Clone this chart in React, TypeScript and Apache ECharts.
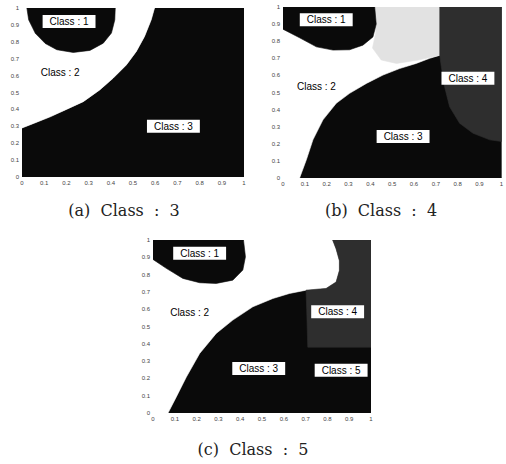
import React, { useEffect, useRef } from "react";
import * as echarts from "echarts";

type Pt = [number, number];

const captions = ["(a)  Class  :  3", "(b)  Class  :  4", "(c)  Class  :  5"];

// ---------- Panel (a): 3 classes ----------
const aBoundary23: Pt[] = [
  [0, 0.29], [0.052, 0.317], [0.127, 0.356], [0.2, 0.4], [0.276, 0.446], [0.35, 0.515],
  [0.41, 0.584], [0.47, 0.663], [0.515, 0.743], [0.552, 0.832], [0.582, 0.93], [0.597, 1],
];
const aClass1: Pt[] = [
  [0.022, 1], [0.03, 0.93], [0.06, 0.85], [0.105, 0.79], [0.157, 0.753], [0.231, 0.737],
  [0.306, 0.749], [0.366, 0.792], [0.403, 0.852], [0.418, 0.93], [0.42, 1],
];
const aLabels = ["Class : 1", "Class : 2", "Class : 3"];
const aLabelPos: Pt[] = [[0.212, 0.92], [0.172, 0.618], [0.682, 0.3]];

// ---------- Panel (b): 4 classes ----------
const bBoundary23: Pt[] = [
  [0.076, 0], [0.107, 0.107], [0.137, 0.223], [0.183, 0.34], [0.244, 0.437], [0.305, 0.495],
  [0.382, 0.553], [0.458, 0.602], [0.534, 0.64], [0.61, 0.67], [0.672, 0.7], [0.718, 0.718],
];
const bBoundary34: Pt[] = [
  [0.718, 0.718], [0.725, 0.65], [0.74, 0.534], [0.763, 0.417], [0.809, 0.32], [0.87, 0.262],
  [0.947, 0.223], [1, 0.214],
];
const bClass1: Pt[] = [
  [0, 1], [0, 0.87], [0.076, 0.82], [0.153, 0.767], [0.229, 0.748], [0.305, 0.75],
  [0.366, 0.777], [0.412, 0.825], [0.427, 0.9], [0.42, 1],
];
const bStipple: Pt[] = [
  [0.42, 1], [0.718, 1], [0.718, 0.718], [0.62, 0.69], [0.52, 0.67], [0.45, 0.69],
  [0.41, 0.76], [0.425, 0.85],
];
const bLabels = ["Class : 1", "Class : 2", "Class : 3", "Class : 4"];
const bLabelPos: Pt[] = [[0.198, 0.926], [0.153, 0.538], [0.55, 0.243], [0.847, 0.583]];

// ---------- Panel (c): 5 classes ----------
const cClass1: Pt[] = [
  [0, 1], [0, 0.888], [0.061, 0.836], [0.137, 0.778], [0.214, 0.753], [0.29, 0.749],
  [0.366, 0.768], [0.412, 0.826], [0.424, 0.903], [0.415, 1],
];
const cBoundary23: Pt[] = [
  [0.069, 0], [0.107, 0.093], [0.153, 0.208], [0.214, 0.344], [0.29, 0.46], [0.366, 0.537],
  [0.458, 0.614], [0.55, 0.662], [0.626, 0.691], [0.702, 0.71], [0.794, 0.72],
];
const cBoundary24: Pt[] = [
  [0.794, 0.72], [0.84, 0.757], [0.855, 0.824], [0.855, 0.88], [0.84, 0.948], [0.824, 1],
];
const cClass4Lower: Pt[] = [[1, 0.38], [0.71, 0.38], [0.705, 0.6], [0.702, 0.71]];
const cLabels = ["Class : 1", "Class : 2", "Class : 3", "Class : 4", "Class : 5"];
const cLabelPos: Pt[] = [[0.214, 0.923], [0.168, 0.579], [0.485, 0.257], [0.847, 0.585], [0.863, 0.247]];

const square: Pt[] = [[0, 0], [1, 0], [1, 1], [0, 1]];

const BLACK = "#0a0a0a";
const WHITE = "#ffffff";
const LIGHT = "#e2e2e2";
const DARK = "#2e2e2e";

type Region = { panel: number; pts: Pt[]; color: string };

const regions: Region[] = [
  // (a)
  { panel: 0, pts: [[0, 0], [1, 0], [1, 1], ...[...aBoundary23].reverse()], color: BLACK },
  { panel: 0, pts: [[0, 1], ...aBoundary23], color: WHITE },
  { panel: 0, pts: aClass1, color: BLACK },
  // (b)
  { panel: 1, pts: square, color: BLACK },
  { panel: 1, pts: [[0, 0], ...bBoundary23, [0.718, 1], [0, 1]], color: WHITE },
  { panel: 1, pts: bStipple, color: LIGHT },
  { panel: 1, pts: bClass1, color: BLACK },
  { panel: 1, pts: [[0.718, 1], [1, 1], ...[...bBoundary34].reverse()], color: DARK },
  // (c)
  { panel: 2, pts: square, color: BLACK },
  { panel: 2, pts: [[0, 0], ...cBoundary23, ...cBoundary24.slice(1), [0, 1]], color: WHITE },
  { panel: 2, pts: cClass1, color: BLACK },
  { panel: 2, pts: [[1, 1], ...cClass4Lower, ...cBoundary24], color: DARK },
];

const labelSets = [
  { names: aLabels, pos: aLabelPos },
  { names: bLabels, pos: bLabelPos },
  { names: cLabels, pos: cLabelPos },
];

const grids = [
  { left: 22, top: 8, width: 222, height: 169 },
  { left: 283, top: 7, width: 219, height: 171 },
  { left: 153, top: 240, width: 218, height: 173 },
];

const captionPos = [
  [124, 210],
  [381, 210],
  [253, 449],
];

export default function App() {
  const ref = useRef<HTMLDivElement>(null);
  useEffect(() => {
    if (!ref.current) return;
    const chart = echarts.init(ref.current, undefined, { renderer: "svg" });
    const axisCommon = {
      type: "value" as const,
      min: 0,
      max: 1,
      interval: 0.1,
      axisLine: { show: false },
      axisTick: { show: false },
      splitLine: { show: false },
      axisLabel: {
        fontSize: 6,
        color: "#444",
        margin: 3,
        fontFamily: "Liberation Sans, Arial, sans-serif",
        showMinLabel: true,
        showMaxLabel: true,
      },
    };
    const series: any[] = [];
    regions.forEach((r) => {
      series.push({
        type: "custom",
        xAxisIndex: r.panel,
        yAxisIndex: r.panel,
        silent: true,
        clip: true,
        encode: { x: 0, y: 1 },
        data: r.pts,
        renderItem: (params: any, api: any) => {
          if (params.dataIndex !== 0) return null;
          const points = r.pts.map((p) => api.coord(p));
          return {
            type: "polygon",
            shape: { points },
            style: { fill: r.color, stroke: r.color, lineWidth: 0.6 },
          };
        },
      });
    });
    labelSets.forEach((ls, i) => {
      series.push({
        type: "scatter",
        xAxisIndex: i,
        yAxisIndex: i,
        symbolSize: 0,
        silent: true,
        z: 10,
        itemStyle: { opacity: 1 },
        data: ls.pos.map((p, k) => ({ value: p, name: ls.names[k] })),
        label: {
          show: true,
          position: "inside",
          formatter: "{b}",
          color: "#000",
          opacity: 1,
          fontSize: 10,
          fontFamily: "Liberation Sans, Arial, sans-serif",
          backgroundColor: "#ffffff",
          padding: [2, 7, 1, 7],
        },
      });
    });
    chart.setOption({
      animation: false,
      backgroundColor: "#fff",
      grid: grids.map((g) => ({ ...g, containLabel: false })),
      xAxis: grids.map((_, i) => ({ ...axisCommon, gridIndex: i })),
      yAxis: grids.map((_, i) => ({ ...axisCommon, gridIndex: i })),
      series,
      graphic: captions.map((t, i) => ({
        type: "text",
        x: captionPos[i][0],
        y: captionPos[i][1],
        style: {
          text: t,
          fill: "#222",
          font: '16px "DejaVu Serif", serif',
          textAlign: "center",
          textVerticalAlign: "middle",
        },
      })),
    });
    return () => chart.dispose();
  }, []);
  return (
    <div
      ref={ref}
      style={{ position: "absolute", left: 0, top: 0, width: 506, height: 464 }}
    />
  );
}
